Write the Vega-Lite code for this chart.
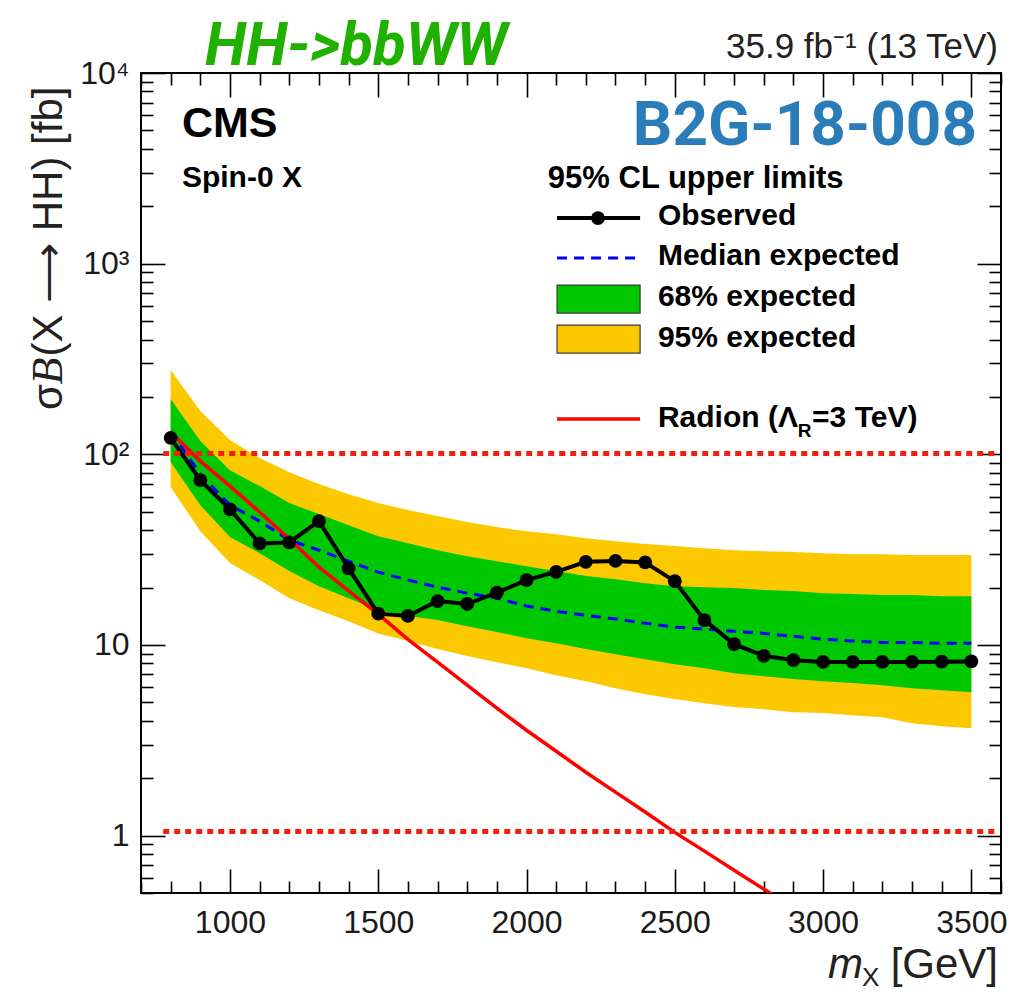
{
  "$schema": "https://vega.github.io/schema/vega-lite/v6.json",
  "width": 860,
  "height": 820,
  "autosize": {"type": "none"},
  "padding": {"left": 141, "top": 73, "right": 13, "bottom": 99},
  "background": "white",
  "config": {
    "view": {"stroke": "black", "strokeWidth": 2},
    "font": "Liberation Sans",
    "axis": {"domain": false, "grid": false, "tickColor": "black", "tickWidth": 1.6, "labelColor": "#1a1a1a", "labelFont": "Liberation Sans", "labelFontSize": 32}
  },
  "resolve": {"axis": {"x": "independent", "y": "independent"}},
  "datasets": {
    "limits": [
      {"mass": 800, "obs": 122, "exp": 132.3, "lo68": 91.0, "hi68": 194.8, "lo95": 67.3, "hi95": 276.5, "radion": 130.8},
      {"mass": 900, "obs": 73.2, "exp": 78.7, "lo68": 54.1, "hi68": 117.3, "lo95": 39.5, "hi95": 168.5, "radion": 92.1},
      {"mass": 1000, "obs": 51.4, "exp": 54.1, "lo68": 36.8, "hi68": 82.6, "lo95": 26.9, "hi95": 118.7, "radion": 68.1},
      {"mass": 1100, "obs": 34.1, "exp": 44.6, "lo68": 30.3, "hi68": 68.1, "lo95": 21.9, "hi95": 95.5, "radion": 49.8},
      {"mass": 1200, "obs": 34.5, "exp": 35.5, "lo68": 24.4, "hi68": 55.5, "lo95": 17.6, "hi95": 80.6, "radion": 35.9},
      {"mass": 1300, "obs": 44.6, "exp": 31.4, "lo68": 20.3, "hi68": 48.6, "lo95": 15.2, "hi95": 69.8, "radion": 25.6},
      {"mass": 1400, "obs": 25.2, "exp": 27.5, "lo68": 17.6, "hi68": 42.5, "lo95": 13.3, "hi95": 61.8, "radion": 19.2},
      {"mass": 1500, "obs": 14.6, "exp": 24.1, "lo68": 15.2, "hi68": 37.2, "lo95": 11.5, "hi95": 55.5, "radion": 14.5},
      {"mass": 1600, "obs": 14.2, "exp": 21.9, "lo68": 14.2, "hi68": 34.2, "lo95": 10.5, "hi95": 51.0, "radion": 10.7},
      {"mass": 1700, "obs": 17.0, "exp": 20.1, "lo68": 13.5, "hi68": 31.4, "lo95": 9.51, "hi95": 47.4, "radion": 8.12},
      {"mass": 1800, "obs": 16.4, "exp": 18.7, "lo68": 12.55, "hi68": 29.2, "lo95": 8.74, "hi95": 44.1, "radion": 6.15},
      {"mass": 1900, "obs": 18.8, "exp": 17.6, "lo68": 11.7, "hi68": 27.5, "lo95": 8.12, "hi95": 41.5, "radion": 4.66},
      {"mass": 2000, "obs": 21.9, "exp": 16.0, "lo68": 10.85, "hi68": 25.9, "lo95": 7.55, "hi95": 39.5, "radion": 3.57},
      {"mass": 2100, "obs": 24.2, "exp": 15.0, "lo68": 10.2, "hi68": 24.4, "lo95": 6.94, "hi95": 38.1, "radion": 2.77},
      {"mass": 2200, "obs": 27.3, "exp": 14.3, "lo68": 9.51, "hi68": 23.0, "lo95": 6.46, "hi95": 36.3, "radion": 2.15},
      {"mass": 2300, "obs": 27.6, "exp": 13.7, "lo68": 8.95, "hi68": 22.1, "lo95": 5.93, "hi95": 35.0, "radion": 1.69},
      {"mass": 2400, "obs": 27.1, "exp": 13.0, "lo68": 8.42, "hi68": 21.1, "lo95": 5.52, "hi95": 33.8, "radion": 1.33},
      {"mass": 2500, "obs": 21.6, "exp": 12.4, "lo68": 7.93, "hi68": 20.3, "lo95": 5.20, "hi95": 33.0, "radion": 1.04},
      {"mass": 2600, "obs": 13.5, "exp": 12.1, "lo68": 7.55, "hi68": 20.1, "lo95": 4.95, "hi95": 32.2, "radion": 0.829},
      {"mass": 2700, "obs": 10.1, "exp": 11.8, "lo68": 7.11, "hi68": 19.9, "lo95": 4.72, "hi95": 31.4, "radion": 0.658},
      {"mass": 2800, "obs": 8.77, "exp": 11.5, "lo68": 6.86, "hi68": 19.4, "lo95": 4.60, "hi95": 31.0, "radion": 0.524},
      {"mass": 2900, "obs": 8.32, "exp": 11.1, "lo68": 6.62, "hi68": 19.2, "lo95": 4.44, "hi95": 30.7, "radion": 0.421},
      {"mass": 3000, "obs": 8.15, "exp": 10.7, "lo68": 6.46, "hi68": 18.7, "lo95": 4.39, "hi95": 30.3, "radion": 0.339},
      {"mass": 3100, "obs": 8.15, "exp": 10.5, "lo68": 6.31, "hi68": 18.5, "lo95": 4.28, "hi95": 29.9},
      {"mass": 3200, "obs": 8.15, "exp": 10.3, "lo68": 6.15, "hi68": 18.3, "lo95": 4.18, "hi95": 29.9},
      {"mass": 3300, "obs": 8.15, "exp": 10.3, "lo68": 5.93, "hi68": 18.3, "lo95": 3.89, "hi95": 29.6},
      {"mass": 3400, "obs": 8.17, "exp": 10.2, "lo68": 5.79, "hi68": 18.0, "lo95": 3.75, "hi95": 29.6},
      {"mass": 3500, "obs": 8.2, "exp": 10.2, "lo68": 5.65, "hi68": 18.0, "lo95": 3.66, "hi95": 29.6}
    ],
    "single": [{}]
  },
  "layer": [
    {
      "data": {"name": "limits"},
      "mark": {"type": "area", "color": "#fcc800"},
      "encoding": {
        "x": {"field": "mass", "type": "quantitative", "scale": {"domain": [700, 3600], "nice": false, "zero": false},
              "axis": {"orient": "bottom", "values": [1000, 1500, 2000, 2500, 3000, 3500], "format": "d", "tickSize": -24, "labelPadding": 38, "title": null}},
        "y": {"field": "hi95", "type": "quantitative", "scale": {"type": "log", "domain": [0.5, 10000], "nice": false},
              "axis": {"orient": "left", "values": [1, 10, 100, 1000, 10000], "tickSize": -24, "labelPadding": 36, "title": null,
                       "labelExpr": "datum.value >= 9999 ? '10⁴' : datum.value >= 999 ? '10³' : datum.value >= 99 ? '10²' : datum.value >= 9 ? '10' : '1'"}},
        "y2": {"field": "lo95"}
      }
    },
    {
      "data": {"name": "limits"},
      "mark": {"type": "area", "color": "#00c800"},
      "encoding": {
        "x": {"field": "mass", "type": "quantitative",
              "axis": {"orient": "bottom", "values": [700, 800, 900, 1100, 1200, 1300, 1400, 1600, 1700, 1800, 1900, 2100, 2200, 2300, 2400, 2600, 2700, 2800, 2900, 3100, 3200, 3300, 3400, 3600], "tickSize": -12, "labels": false, "title": null}},
        "y": {"field": "hi68", "type": "quantitative",
              "axis": {"orient": "left", "values": [0.5, 0.6, 0.7, 0.8, 0.9, 2, 3, 4, 5, 6, 7, 8, 9, 20, 30, 40, 50, 60, 70, 80, 90, 200, 300, 400, 500, 600, 700, 800, 900, 2000, 3000, 4000, 5000, 6000, 7000, 8000, 9000], "tickSize": -12, "labels": false, "title": null}},
        "y2": {"field": "lo68"}
      }
    },
    {
      "data": {"name": "limits"},
      "mark": {"type": "line", "color": "#0000ff", "strokeWidth": 3, "strokeDash": [10, 7]},
      "encoding": {
        "x": {"field": "mass", "type": "quantitative",
              "axis": {"orient": "top", "values": [1000, 1500, 2000, 2500, 3000, 3500], "tickSize": -24, "labels": false, "title": null}},
        "y": {"field": "exp", "type": "quantitative",
              "axis": {"orient": "right", "values": [1, 10, 100, 1000, 10000], "tickSize": -24, "labels": false, "title": null}}
      }
    },
    {
      "data": {"name": "limits"},
      "mark": {"type": "line", "color": "#ff0000", "strokeWidth": 3.5, "clip": true},
      "encoding": {
        "x": {"field": "mass", "type": "quantitative",
              "axis": {"orient": "top", "values": [700, 800, 900, 1100, 1200, 1300, 1400, 1600, 1700, 1800, 1900, 2100, 2200, 2300, 2400, 2600, 2700, 2800, 2900, 3100, 3200, 3300, 3400, 3600], "tickSize": -12, "labels": false, "title": null}},
        "y": {"field": "radion", "type": "quantitative",
              "axis": {"orient": "right", "values": [0.5, 0.6, 0.7, 0.8, 0.9, 2, 3, 4, 5, 6, 7, 8, 9, 20, 30, 40, 50, 60, 70, 80, 90, 200, 300, 400, 500, 600, 700, 800, 900, 2000, 3000, 4000, 5000, 6000, 7000, 8000, 9000], "tickSize": -12, "labels": false, "title": null}}
      }
    },
    {
      "data": {"name": "limits"},
      "mark": {"type": "line", "color": "black", "strokeWidth": 4},
      "encoding": {
        "x": {"field": "mass", "type": "quantitative", "axis": null},
        "y": {"field": "obs", "type": "quantitative", "axis": null}
      }
    },
    {
      "data": {"name": "limits"},
      "mark": {"type": "point", "filled": true, "color": "black", "opacity": 1, "size": 190},
      "encoding": {
        "x": {"field": "mass", "type": "quantitative", "axis": null},
        "y": {"field": "obs", "type": "quantitative", "axis": null}
      }
    },
    {
      "data": {"name": "single"},
      "mark": {"type": "rule", "color": "#f02010", "strokeWidth": 5, "strokeDash": [6, 5]},
      "encoding": {
        "x": {"datum": 775, "type": "quantitative", "axis": null},
        "x2": {"datum": 3585},
        "y": {"datum": 101, "type": "quantitative", "axis": null}
      }
    },
    {
      "data": {"name": "single"},
      "mark": {"type": "rule", "color": "#f02010", "strokeWidth": 5, "strokeDash": [6, 5]},
      "encoding": {
        "x": {"datum": 775, "type": "quantitative", "axis": null},
        "x2": {"datum": 3585},
        "y": {"datum": 1.05, "type": "quantitative", "axis": null}
      }
    },
    {
      "data": {"name": "single"},
      "mark": {"type": "text", "text": "HH->bbWW", "font": "Roboto", "fontSize": 60, "fontWeight": "bold", "fontStyle": "italic", "color": "#1fb000", "align": "left", "baseline": "alphabetic"},
      "encoding": {"x": {"datum": 916, "type": "quantitative", "axis": null}, "y": {"datum": 11014, "type": "quantitative", "axis": null}}
    },
    {
      "data": {"name": "single"},
      "mark": {"type": "text", "text": "35.9 fb⁻¹ (13 TeV)", "fontSize": 35, "color": "#222222", "align": "right", "baseline": "alphabetic"},
      "encoding": {"x": {"datum": 3590, "type": "quantitative", "axis": null}, "y": {"datum": 11985, "type": "quantitative", "axis": null}}
    },
    {
      "data": {"name": "single"},
      "mark": {"type": "text", "text": "B2G-18-008", "font": "Roboto", "fontSize": 62, "fontWeight": "bold", "color": "#2a7db8", "align": "right", "baseline": "alphabetic"},
      "encoding": {"x": {"datum": 3519, "type": "quantitative", "axis": null}, "y": {"datum": 4191, "type": "quantitative", "axis": null}}
    },
    {
      "data": {"name": "single"},
      "mark": {"type": "text", "text": "CMS", "fontSize": 43, "fontWeight": "bold", "color": "black", "align": "left", "baseline": "alphabetic"},
      "encoding": {"x": {"datum": 838, "type": "quantitative", "axis": null}, "y": {"datum": 4616, "type": "quantitative", "axis": null}}
    },
    {
      "data": {"name": "single"},
      "mark": {"type": "text", "text": "Spin-0 X", "fontSize": 30, "fontWeight": "bold", "color": "black", "align": "left", "baseline": "alphabetic"},
      "encoding": {"x": {"datum": 838, "type": "quantitative", "axis": null}, "y": {"datum": 2523, "type": "quantitative", "axis": null}}
    },
    {
      "data": {"name": "single"},
      "mark": {"type": "text", "text": "95% CL upper limits", "fontSize": 31, "fontWeight": "bold", "color": "black", "align": "left", "baseline": "alphabetic"},
      "encoding": {"x": {"datum": 2072, "type": "quantitative", "axis": null}, "y": {"datum": 2493, "type": "quantitative", "axis": null}}
    },
    {
      "data": {"name": "single"},
      "mark": {"type": "rule", "color": "black", "strokeWidth": 4},
      "encoding": {"x": {"datum": 2103, "type": "quantitative", "axis": null}, "x2": {"datum": 2383}, "y": {"datum": 1735, "type": "quantitative", "axis": null}}
    },
    {
      "data": {"name": "single"},
      "mark": {"type": "point", "filled": true, "color": "black", "opacity": 1, "size": 190},
      "encoding": {"x": {"datum": 2241, "type": "quantitative", "axis": null}, "y": {"datum": 1735, "type": "quantitative", "axis": null}}
    },
    {
      "data": {"name": "single"},
      "mark": {"type": "text", "text": "Observed", "fontSize": 30, "fontWeight": "bold", "color": "black", "align": "left", "baseline": "alphabetic"},
      "encoding": {"x": {"datum": 2443, "type": "quantitative", "axis": null}, "y": {"datum": 1594, "type": "quantitative", "axis": null}}
    },
    {
      "data": {"name": "single"},
      "mark": {"type": "rule", "color": "#0000ff", "strokeWidth": 3, "strokeDash": [10, 7]},
      "encoding": {"x": {"datum": 2103, "type": "quantitative", "axis": null}, "x2": {"datum": 2383}, "y": {"datum": 1070, "type": "quantitative", "axis": null}}
    },
    {
      "data": {"name": "single"},
      "mark": {"type": "text", "text": "Median expected", "fontSize": 30, "fontWeight": "bold", "color": "black", "align": "left", "baseline": "alphabetic"},
      "encoding": {"x": {"datum": 2443, "type": "quantitative", "axis": null}, "y": {"datum": 983, "type": "quantitative", "axis": null}}
    },
    {
      "data": {"name": "single"},
      "mark": {"type": "rect", "color": "#00c800", "stroke": "#3a3a3a", "strokeWidth": 1.2},
      "encoding": {"x": {"datum": 2103, "type": "quantitative", "axis": null}, "x2": {"datum": 2383}, "y": {"datum": 772, "type": "quantitative", "axis": null}, "y2": {"datum": 550.5}}
    },
    {
      "data": {"name": "single"},
      "mark": {"type": "text", "text": "68% expected", "fontSize": 30, "fontWeight": "bold", "color": "black", "align": "left", "baseline": "alphabetic"},
      "encoding": {"x": {"datum": 2443, "type": "quantitative", "axis": null}, "y": {"datum": 599, "type": "quantitative", "axis": null}}
    },
    {
      "data": {"name": "single"},
      "mark": {"type": "rect", "color": "#fcc800", "stroke": "#3a3a3a", "strokeWidth": 1.2},
      "encoding": {"x": {"datum": 2103, "type": "quantitative", "axis": null}, "x2": {"datum": 2383}, "y": {"datum": 476, "type": "quantitative", "axis": null}, "y2": {"datum": 339.6}}
    },
    {
      "data": {"name": "single"},
      "mark": {"type": "text", "text": "95% expected", "fontSize": 30, "fontWeight": "bold", "color": "black", "align": "left", "baseline": "alphabetic"},
      "encoding": {"x": {"datum": 2443, "type": "quantitative", "axis": null}, "y": {"datum": 366, "type": "quantitative", "axis": null}}
    },
    {
      "data": {"name": "single"},
      "mark": {"type": "rule", "color": "#ff0000", "strokeWidth": 3.5},
      "encoding": {"x": {"datum": 2103, "type": "quantitative", "axis": null}, "x2": {"datum": 2383}, "y": {"datum": 153, "type": "quantitative", "axis": null}}
    },
    {
      "data": {"name": "single"},
      "mark": {"type": "text", "text": "Radion (Λ", "fontSize": 30, "fontWeight": "bold", "color": "black", "align": "left", "baseline": "alphabetic"},
      "encoding": {"x": {"datum": 2443, "type": "quantitative", "axis": null}, "y": {"datum": 139.4, "type": "quantitative", "axis": null}}
    },
    {
      "data": {"name": "single"},
      "mark": {"type": "text", "text": "R", "fontSize": 19, "fontWeight": "bold", "color": "black", "align": "left", "baseline": "alphabetic"},
      "encoding": {"x": {"datum": 2915, "type": "quantitative", "axis": null}, "y": {"datum": 123, "type": "quantitative", "axis": null}}
    },
    {
      "data": {"name": "single"},
      "mark": {"type": "text", "text": "=3 TeV)", "fontSize": 30, "fontWeight": "bold", "color": "black", "align": "left", "baseline": "alphabetic"},
      "encoding": {"x": {"datum": 2963, "type": "quantitative", "axis": null}, "y": {"datum": 139.4, "type": "quantitative", "axis": null}}
    },
    {
      "data": {"name": "single"},
      "mark": {"type": "text", "text": "[GeV]", "fontSize": 42, "color": "#222222", "align": "right", "baseline": "alphabetic"},
      "encoding": {"x": {"datum": 3590, "type": "quantitative", "axis": null}, "y": {"datum": 0.1786, "type": "quantitative", "axis": null}}
    },
    {
      "data": {"name": "single"},
      "mark": {"type": "text", "text": "X", "fontSize": 26, "color": "#222222", "align": "right", "baseline": "alphabetic"},
      "encoding": {"x": {"datum": 3190, "type": "quantitative", "axis": null}, "y": {"datum": 0.162, "type": "quantitative", "axis": null}}
    },
    {
      "data": {"name": "single"},
      "mark": {"type": "text", "text": "m", "fontSize": 42, "fontStyle": "italic", "color": "#222222", "align": "right", "baseline": "alphabetic"},
      "encoding": {"x": {"datum": 3135, "type": "quantitative", "axis": null}, "y": {"datum": 0.1786, "type": "quantitative", "axis": null}}
    },
    {
      "data": {"name": "single"},
      "mark": {"type": "text", "text": "σ", "fontSize": 42, "angle": 270, "color": "#222222", "align": "left", "baseline": "alphabetic"},
      "encoding": {"x": {"datum": 434, "type": "quantitative", "axis": null}, "y": {"datum": 170.6, "type": "quantitative", "axis": null}}
    },
    {
      "data": {"name": "single"},
      "mark": {"type": "text", "text": "B", "font": "Liberation Serif", "fontSize": 44, "fontStyle": "italic", "angle": 270, "color": "#222222", "align": "left", "baseline": "alphabetic"},
      "encoding": {"x": {"datum": 434, "type": "quantitative", "axis": null}, "y": {"datum": 232.1, "type": "quantitative", "axis": null}}
    },
    {
      "data": {"name": "single"},
      "mark": {"type": "text", "text": "(X ⟶ HH) [fb]", "fontSize": 42, "angle": 270, "color": "#222222", "align": "left", "baseline": "alphabetic"},
      "encoding": {"x": {"datum": 434, "type": "quantitative", "axis": null}, "y": {"datum": 325.5, "type": "quantitative", "axis": null}}
    }
  ]
}
